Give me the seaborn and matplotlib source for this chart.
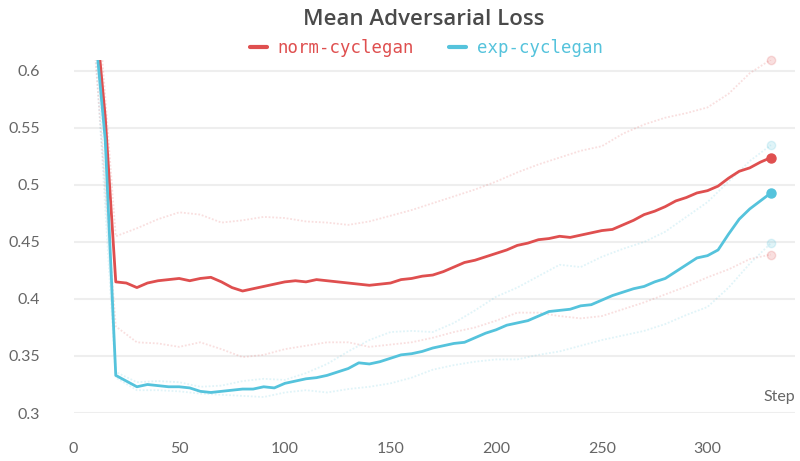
import pandas as pd
import matplotlib.pyplot as plt
import seaborn as sns
from matplotlib.lines import Line2D

# Smoothed runs (every 5 steps) and their min/max envelopes (every 10 steps)
steps = list(range(10, 335, 5))
norm_loss = [0.66, 0.56,
             0.415, 0.414, 0.410, 0.414, 0.416, 0.417, 0.418, 0.416, 0.418, 0.419,
             0.415, 0.410, 0.407, 0.409, 0.411, 0.413, 0.415, 0.416, 0.415, 0.417,
             0.416, 0.415, 0.414, 0.413, 0.412, 0.413, 0.414, 0.417, 0.418, 0.420,
             0.421, 0.424, 0.428, 0.432, 0.434, 0.437, 0.440, 0.443, 0.447, 0.449,
             0.452, 0.453, 0.455, 0.454, 0.456, 0.458, 0.460, 0.461, 0.465, 0.469,
             0.474, 0.477, 0.481, 0.486, 0.489, 0.493, 0.495, 0.499, 0.506, 0.512,
             0.515, 0.520, 0.524]
exp_loss = [0.64, 0.54,
            0.333, 0.328, 0.323, 0.325, 0.324, 0.323, 0.323, 0.322, 0.319, 0.318,
            0.319, 0.320, 0.321, 0.321, 0.323, 0.322, 0.326, 0.328, 0.330, 0.331,
            0.333, 0.336, 0.339, 0.344, 0.343, 0.345, 0.348, 0.351, 0.352, 0.354,
            0.357, 0.359, 0.361, 0.362, 0.366, 0.370, 0.373, 0.377, 0.379, 0.381,
            0.385, 0.389, 0.390, 0.391, 0.394, 0.395, 0.399, 0.403, 0.406, 0.409,
            0.411, 0.415, 0.418, 0.424, 0.430, 0.436, 0.438, 0.443, 0.457, 0.470,
            0.479, 0.486, 0.493]

band_steps = list(range(10, 335, 10))
norm_max = [0.70, 0.455, 0.462, 0.470, 0.476, 0.474, 0.467, 0.469, 0.472, 0.471, 0.468,
            0.467, 0.465, 0.468, 0.473, 0.478, 0.484, 0.490, 0.496, 0.503, 0.511,
            0.518, 0.524, 0.530, 0.534, 0.545, 0.553, 0.559, 0.563, 0.568, 0.580,
            0.598, 0.610]
norm_min = [0.62, 0.376, 0.362, 0.361, 0.358, 0.362, 0.356, 0.349, 0.351, 0.356, 0.359,
            0.362, 0.362, 0.358, 0.360, 0.362, 0.366, 0.371, 0.375, 0.381, 0.388,
            0.388, 0.385, 0.383, 0.385, 0.391, 0.397, 0.404, 0.411, 0.419, 0.426,
            0.435, 0.439]
exp_max = [0.66, 0.336, 0.327, 0.328, 0.327, 0.323, 0.324, 0.328, 0.330, 0.329, 0.335,
           0.343, 0.354, 0.364, 0.371, 0.372, 0.371, 0.379, 0.390, 0.402, 0.410,
           0.420, 0.430, 0.428, 0.437, 0.444, 0.450, 0.459, 0.472, 0.485, 0.503,
           0.521, 0.535]
exp_min = [0.63, 0.331, 0.320, 0.320, 0.319, 0.317, 0.316, 0.315, 0.314, 0.318, 0.320,
           0.318, 0.321, 0.323, 0.326, 0.331, 0.338, 0.342, 0.345, 0.347, 0.347,
           0.351, 0.354, 0.359, 0.364, 0.368, 0.372, 0.378, 0.386, 0.393, 0.410,
           0.431, 0.449]

runs = ['norm-cyclegan', 'exp-cyclegan']
colors = {'norm-cyclegan': '#df4f4f', 'exp-cyclegan': '#55c3dc'}

main = pd.DataFrame({
    'step': steps * 2,
    'loss': norm_loss + exp_loss,
    'run': ['norm-cyclegan'] * len(steps) + ['exp-cyclegan'] * len(steps),
})
bands = pd.DataFrame({
    'step': band_steps * 4,
    'loss': norm_max + norm_min + exp_max + exp_min,
    'run': (['norm-cyclegan'] * len(band_steps) * 2 + ['exp-cyclegan'] * len(band_steps) * 2),
    'kind': (['max'] * len(band_steps) + ['min'] * len(band_steps)) * 2,
})
bands['line'] = bands['run'] + '-' + bands['kind']

sns.set_style("white")
plt.rcParams['font.family'] = ['Lato', 'DejaVu Sans']

fig = plt.figure(figsize=(8, 4.61), dpi=100)
ax = fig.add_axes([73.5 / 800, 48 / 461, (795 - 73.5) / 800, (413 - 60) / 461])

# faint envelopes
for name, grp in bands.groupby('line'):
    run = grp['run'].iloc[0]
    sns.lineplot(data=grp, x='step', y='loss', color=colors[run], alpha=0.18,
                 linewidth=1.3, linestyle=(0, (1, 1)), ax=ax, legend=False)
    last = grp.iloc[-1]
    ax.plot(last['step'], last['loss'], 'o', color=colors[run], alpha=0.18, ms=6,
            clip_on=False)

# main runs
sns.lineplot(data=main, x='step', y='loss', hue='run', hue_order=runs, palette=colors,
             linewidth=2.0, ax=ax, legend=False)
for run in runs:
    last = main[main['run'] == run].iloc[-1]
    ax.plot(last['step'], last['loss'], 'o', color=colors[run], ms=6.5, clip_on=False)

ax.set_xlim(0, 341.4)
ax.set_ylim(0.3, 0.6096)
ax.set_xticks([0, 50, 100, 150, 200, 250, 300])
ax.set_yticks([0.3, 0.35, 0.4, 0.45, 0.5, 0.55, 0.6])
ax.set_yticklabels(['0.3', '0.35', '0.4', '0.45', '0.5', '0.55', '0.6'])
ax.grid(axis='y', color='#eeeeee', linewidth=1.5)
ax.set_axisbelow(True)
for s in ax.spines.values():
    s.set_visible(False)
ax.tick_params(axis='x', direction='inout', length=14, width=1.2, color='#e2e2e2',
               labelsize=11.5, labelcolor='#666666', pad=14)
ax.tick_params(axis='y', length=0, labelsize=11.5, labelcolor='#666666', pad=24)
ax.set_xlabel('')
ax.set_ylabel('')
ax.text(1.0, 0.045, 'Step', transform=ax.transAxes, ha='right', va='center',
        fontsize=11.5, color='#666666')

fig.text(0.529, 0.958, 'Mean Adversarial Loss', ha='center', va='center',
         fontsize=16, color='#4a4a4a', fontweight='semibold', family='Open Sans')

handles = [Line2D([0], [0], color=colors[r], linewidth=3) for r in runs]
fig.legend(handles, runs, loc='center', bbox_to_anchor=(0.533, 0.895), ncol=2,
           frameon=False, handlelength=1.0, handletextpad=0.6, columnspacing=2.0,
           labelcolor='linecolor', prop={'family': 'DejaVu Sans Mono', 'size': 12.5})

fig.savefig('out.png', dpi=100)
plt.close()
